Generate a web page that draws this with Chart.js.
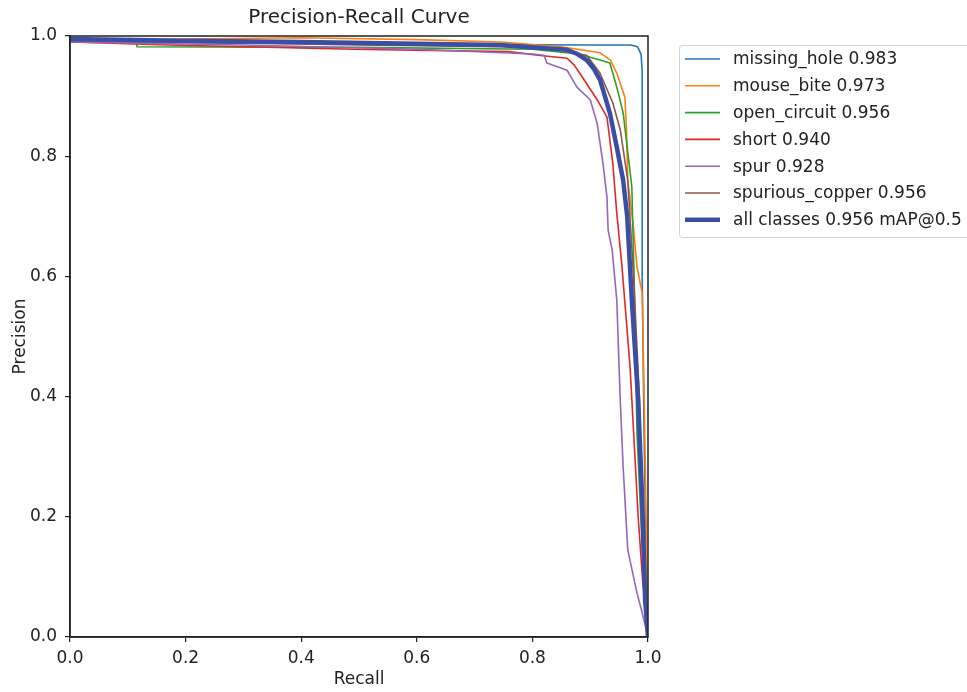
<!DOCTYPE html>
<html>
<head>
<meta charset="utf-8">
<script src="https://cdn.jsdelivr.net/npm/chart.js@4/dist/chart.umd.min.js"></script>
<style>
html,body{margin:0;padding:0;background:#fff}
#wrap{width:967px;height:692px}
</style>
</head>
<body>
<div id="wrap"><canvas id="c" width="967" height="692"></canvas></div>
<script>
// class names and their AP values
const classNames=['missing_hole','mouse_bite','open_circuit','short','spur','spurious_copper']
const classAP=[0.983,0.973,0.956,0.940,0.928,0.956]
const allAP=0.956

// recall / precision points
const mhRecall=[0,0.05,0.3,0.6,0.9,0.97,0.982,0.988,0.99,0.99,0.993,0.997,1.0]
const mhPrec=[0.993,0.99,0.988,0.986,0.985,0.985,0.982,0.97,0.94,0.6,0.35,0.12,0]

const mbRecall=[0,0.2,0.4,0.6,0.745,0.85,0.917,0.935,0.946,0.96,0.963,0.965,0.975,0.981,0.99,0.995,1.0]
const mbPrec=[0.99,0.995,0.997,0.994,0.99,0.982,0.972,0.96,0.938,0.898,0.84,0.76,0.68,0.616,0.572,0.31,0]

const ocRecall=[0,0.115,0.116,0.5,0.8,0.88,0.917,0.934,0.946,0.957,0.964,0.972,0.976,0.981,0.99,1.0]
const ocPrec=[0.99,0.99,0.982,0.981,0.978,0.97,0.96,0.955,0.915,0.872,0.815,0.749,0.6,0.339,0.15,0]

const shRecall=[0,0.17,0.49,0.76,0.81,0.86,0.872,0.882,0.912,0.929,0.939,0.946,0.955,0.969,0.983,0.991,0.997,1.0]
const shPrec=[0.99,0.985,0.978,0.974,0.968,0.963,0.952,0.938,0.894,0.865,0.789,0.705,0.616,0.449,0.2,0.09,0.04,0]

const spRecall=[0,0.3,0.6,0.8,0.82,0.825,0.86,0.877,0.9,0.912,0.922,0.929,0.931,0.938,0.946,0.952,0.957,0.965,0.981,0.99,1.0]
const spPrec=[0.99,0.985,0.978,0.97,0.968,0.955,0.943,0.915,0.894,0.855,0.789,0.732,0.677,0.644,0.561,0.394,0.283,0.145,0.073,0.04,0]

const scRecall=[0,0.2,0.5,0.75,0.85,0.894,0.917,0.939,0.952,0.965,0.975,0.985,0.99,0.995,1.0]
const scPrec=[0.993,0.99,0.985,0.982,0.976,0.968,0.938,0.889,0.844,0.76,0.6,0.4,0.206,0.08,0]

const allRecall=[0,0.2,0.4,0.6,0.744,0.86,0.878,0.894,0.906,0.917,0.934,0.946,0.957,0.964,0.972,0.983,0.99,0.995,1.0]
const allPrec=[0.995,0.992,0.99,0.987,0.985,0.977,0.97,0.96,0.946,0.927,0.872,0.815,0.76,0.7,0.561,0.394,0.228,0.062,0]

const axisTicks=[0,0.2,0.4,0.6,0.8,1.0]

const recalls=[mhRecall,mbRecall,ocRecall,shRecall,spRecall,scRecall]
const precs=[mhPrec,mbPrec,ocPrec,shPrec,spPrec,scPrec]
const colors=['#1f77b4','#ff7f0e','#2ca02c','#e02828','#9467bd','#8c564b']
const allColor='#3a4ea8'
const font="'DejaVu Sans', sans-serif"

function pts(r,p){
    let out=[]
    for (let i=0;i<r.length;i++) out.push({x:r[i],y:p[i]})
    return out
}

let datasets=[]
for (let i=0;i<classNames.length;i++){
    datasets.push({
        label:classNames[i]+' '+classAP[i].toFixed(3),
        data:pts(recalls[i],precs[i]),
        borderColor:colors[i],
        backgroundColor:colors[i],
        borderWidth:1.6,
        order:7-i
    })
}
datasets.push({
    label:'all classes '+allAP.toFixed(3)+' mAP@0.5',
    data:pts(allRecall,allPrec),
    borderColor:allColor,
    backgroundColor:allColor,
    borderWidth:4.5,
    order:0
})

// frame, title and legend like matplotlib
const extras={
    id:'extras',
    afterDraw(chart){
        const ctx=chart.ctx
        const a=chart.chartArea
        ctx.save()
        ctx.strokeStyle='#222'
        ctx.lineWidth=1.5
        ctx.strokeRect(a.left,a.top,a.right-a.left,a.bottom-a.top)

        ctx.fillStyle='#222'
        ctx.font='20px '+font
        ctx.textAlign='center'
        ctx.textBaseline='middle'
        ctx.fillText('Precision-Recall Curve',(a.left+a.right)/2,18)

        // legend box
        const bx=679.5,by=45.5,bw=300,bh=192
        ctx.fillStyle='rgba(255,255,255,0.8)'
        ctx.strokeStyle='#d0d0d0'
        ctx.lineWidth=1
        ctx.beginPath()
        ctx.roundRect(bx,by,bw,bh,3)
        ctx.fill()
        ctx.stroke()
        ctx.font='17px '+font
        ctx.textAlign='left'
        const items=chart.data.datasets
        for (let i=0;i<items.length;i++){
            const y=59+i*26.8
            ctx.strokeStyle=items[i].borderColor
            ctx.lineWidth=items[i].borderWidth
            ctx.beginPath()
            ctx.moveTo(685,y)
            ctx.lineTo(720,y)
            ctx.stroke()
            ctx.fillStyle='#222'
            ctx.fillText(items[i].label,733,y+1)
        }
        ctx.restore()
    }
}

new Chart(document.getElementById('c'),{
    type:'scatter',
    data:{datasets:datasets},
    options:{
        responsive:false,
        animation:false,
        showLine:true,
        elements:{point:{radius:0},line:{tension:0,borderCapStyle:'butt',borderJoinStyle:'round'}},
        layout:{padding:{top:36,right:319,left:0,bottom:0}},
        plugins:{legend:{display:false},tooltip:{enabled:false},title:{display:false}},
        scales:{
            x:{
                type:'linear',min:0,max:1,
                afterFit(s){s.height=55},
                afterBuildTicks(s){s.ticks=axisTicks.map(v=>({value:v}))},
                ticks:{font:{family:font,size:17},color:'#222',padding:6,callback:v=>v.toFixed(1),maxRotation:0},
                grid:{drawOnChartArea:false,drawTicks:true,tickLength:5,color:'#222',lineWidth:1.2},
                border:{display:true,color:'#222',width:1.5},
                title:{display:true,text:'Recall',font:{family:font,size:17},color:'#222',padding:{top:0,bottom:2}}
            },
            y:{
                type:'linear',min:0,max:1,
                afterFit(s){s.width=70},
                afterBuildTicks(s){s.ticks=axisTicks.map(v=>({value:v}))},
                ticks:{font:{family:font,size:17},color:'#222',padding:8,callback:v=>v.toFixed(1)},
                grid:{drawOnChartArea:false,drawTicks:true,tickLength:5,color:'#222',lineWidth:1.2},
                border:{display:true,color:'#222',width:1.5},
                title:{display:true,text:'Precision',font:{family:font,size:17},color:'#222',padding:{top:10,bottom:0}}
            }
        }
    },
    plugins:[extras]
})
</script>
</body>
</html>
